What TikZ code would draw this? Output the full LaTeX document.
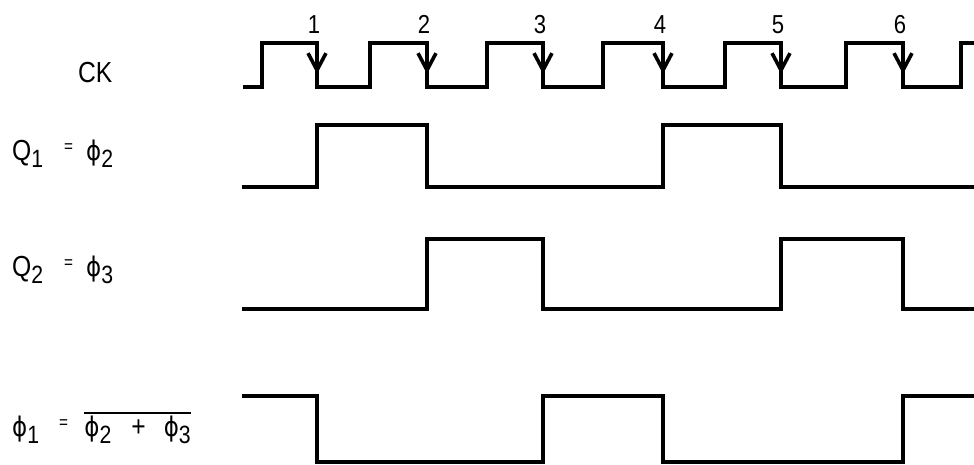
\documentclass[tikz,border=0pt]{standalone}
\usepackage{fontspec}
\setmainfont[FakeStretch=0.85]{Liberation Sans}
\newfontfamily\phif[FakeStretch=0.85]{DejaVu Sans}
\usetikzlibrary{arrows.meta,positioning}

% lowered index, small raised equal sign, phi
\newcommand{\lo}[1]{\raisebox{-7pt}{\fontsize{25}{25}\selectfont #1}}
\newcommand{\eqs}{\raisebox{8pt}{\fontsize{18}{18}\selectfont =}}
\newcommand{\ph}{{\phif\fontsize{27}{27}\selectfont ϕ}}

\begin{document}
\begin{tikzpicture}[
  x=1pt, y=-1pt,
  wave/.style={line width=3.6pt, line join=miter},
  lbl/.style={anchor=base west, inner sep=0pt, font=\fontsize{29}{31}\selectfont},
  num/.style={anchor=base, inner sep=0pt, font=\fontsize{26}{28}\selectfont},
  tick/.style={line width=3.6pt, -{Straight Barb[length=17pt,width=18pt]}}
]
\useasboundingbox (0,0) rectangle (974,464);

% Namen
\node[lbl] (ck) at (78,82) {CK};
\node[lbl] (q1) at (12,160) {Q\lo{1}\hspace{21pt}\eqs\hspace{13pt}\ph\lo{2}};
\node[lbl] (q2) at (12,276) {Q\lo{2}\hspace{21pt}\eqs\hspace{13pt}\ph\lo{3}};
\node[lbl] (p1) at (12,436) {\ph\lo{1}\hspace{20pt}\eqs};
\node[lbl, base right=16pt of p1] (psum) {\ph\lo{2}\hspace{20pt}+\hspace{18pt}\ph\lo{3}};
\draw[line width=1.6pt] ([yshift=2pt]psum.north west) -- ([yshift=2pt]psum.north east);

% Takt
\draw[wave] (243,87) -| (262,43) -| (317,87) -| (370,43) -| (427,87) -| (487,43)
  -| (543,87) -| (603,43) -| (663,87) -| (725,43) -| (781,87) -| (846,43)
  -| (903,87) -| (961,43) -- (974,43);

% Flanken
\foreach \x/\n in {317/1,427/2,543/3,663/4,781/5,903/6} {
  \node[num] (n\n) at (\x-3,33) {\n};
  \coordinate (e\n) at (\x,43);
  \draw[tick] (e\n) -- ++(0,31);
}

% Q1
\draw[wave] (242,187) -| (317,125) -| (427,187) -| (663,125) -| (781,187) -- (974,187);

% Q2
\draw[wave] (242,309) -| (427,239) -| (543,309) -| (781,239) -| (903,309) -- (974,309);

% phi1
\draw[wave] (242,396) -| (317,462) -| (543,396) -| (663,462) -| (903,396) -- (974,396);

\end{tikzpicture}
\end{document}
